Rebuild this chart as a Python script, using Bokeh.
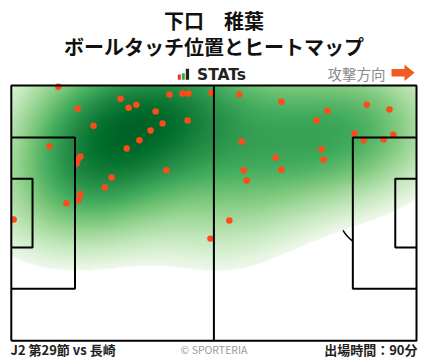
import numpy as np
from bokeh.plotting import figure
from bokeh.models import Range1d
from bokeh.core.properties import value
from bokeh.embed import file_html
from bokeh.resources import INLINE

# ---------------- data ----------------
player_name = "下口　稚葉"
chart_title = "ボールタッチ位置とヒートマップ"
match_label = "J2 第29節 vs 長崎"
minutes_label = "出場時間：90分"
direction_label = "攻撃方向"
credit_label = "© SPORTERIA"

# ball-touch positions in metres (pitch 105 x 68, attacking to the right)
touch_x = [12.2, 17.2, 21.3, 9.9, 17.9, 17.2, 16.9, 28.3, 30.4, 32.4, 41.0, 44.4,
           45.9, 51.9, 37.4, 39.2, 45.7, 36.1, 33.2, 29.9, 40.2, 59.1, 70.0, 79.1,
           59.7, 68.5, 80.4, 80.9, 60.2, 70.0, 81.9, 92.1, 98.0, 88.9, 91.3, 96.5,
           99.0, 26.0, 24.2, 17.9, 17.4, 14.3, 0.6, 51.6, 61.0, 56.5]
touch_y = [67.7, 61.9, 57.3, 51.8, 49.1, 48.3, 47.2, 64.5, 62.1, 62.9, 65.6, 65.9,
           65.9, 66.1, 61.1, 57.9, 58.7, 56.0, 53.4, 51.2, 45.4, 65.6, 63.7, 58.7,
           53.1, 48.8, 51.0, 48.3, 45.4, 45.6, 61.3, 62.9, 61.6, 55.2, 53.4, 53.6,
           54.9, 43.5, 40.8, 39.0, 37.4, 36.6, 32.3, 27.2, 42.7, 32.0]

PITCH_LEN, PITCH_WID = 105.0, 68.0

# ---------------- layout ----------------
W, H = 428, 359
X0, Y0 = 10.8, 85.0                 # picture position of pitch top-left
SX, SY = 405.2 / PITCH_LEN, 255.2 / PITCH_WID


def PX(px):
    return (px - X0) / SX


def PY(py):
    return PITCH_WID - (py - Y0) / SY


p = figure(width=W, height=H,
           x_range=Range1d(PX(0), PX(W)), y_range=Range1d(PY(H), PY(0)),
           x_axis_type=None, y_axis_type=None, toolbar_location=None,
           output_backend="svg", min_border=0, outline_line_color=None,
           background_fill_color="white", border_fill_color="white")

# ---------------- markings under the heat map ----------------
p.circle(x=[PITCH_LEN / 2], y=[PITCH_WID / 2], radius=9.15, fill_color=None,
         line_color="black", line_width=2)
p.arc(x=[11.0], y=[34.0], radius=9.15, start_angle=-0.93, end_angle=0.93,
      line_color="black", line_width=2)
p.arc(x=[94.0], y=[34.0], radius=9.15, start_angle=np.pi - 0.93, end_angle=np.pi + 0.93,
      line_color="black", line_width=1.5)
p.scatter(x=[11.0, 94.0], y=[34.0, 34.0], size=4, color="black")

# ---------------- heat map (kernel density of touches) ----------------
nx, ny = 406, 256
gx = (np.arange(nx) + 0.5) * PITCH_LEN / nx
gy = (np.arange(ny) + 0.5) * PITCH_WID / ny
GX, GY = np.meshgrid(gx, gy)
bx, by = 14.0, 12.5
dens = np.zeros_like(GX)
for tx, ty in zip(touch_x, touch_y):
    dens += np.exp(-((GX - tx) ** 2 / (2 * bx ** 2) + (GY - ty) ** 2 / (2 * by ** 2)))
dens /= dens.max()
thr = 0.12

stops = [0.0, 0.125, 0.25, 0.375, 0.5, 0.625, 0.75, 0.875, 1.0]
greens = ["#f7fcf5", "#e5f5e0", "#c7e9c0", "#a1d99b", "#74c476",
          "#41ab5d", "#238b45", "#006d2c", "#00441b"]
rgb = np.array([[int(c[i:i + 2], 16) for i in (1, 3, 5)] for c in greens], dtype=float)
t = np.clip((dens - thr) / (1 - thr), 0, 1) ** 0.72
cval = 0.05 + t * 0.86
img = np.zeros((ny, nx), dtype=np.uint32)
view = img.view(dtype=np.uint8).reshape((ny, nx, 4))
for ch in range(3):
    view[:, :, ch] = np.interp(cval, stops, rgb[:, ch]).astype(np.uint8)
view[:, :, 3] = np.where(dens >= thr, 255, 0).astype(np.uint8)
p.image_rgba(image=[img], x=0, y=0, dw=PITCH_LEN, dh=PITCH_WID)

# ---------------- touches ----------------
p.scatter(x=touch_x, y=touch_y, size=6.5, fill_color="#ff4a1a", line_color=None)

# ---------------- pitch lines ----------------
L, Wd = PITCH_LEN, PITCH_WID
pb_y0, pb_y1 = 34 - 20.16, 34 + 20.16
ga_y0, ga_y1 = 34 - 9.16, 34 + 9.16
lines_x = [[0, L, L, 0, 0], [L / 2, L / 2],
           [0, 16.5, 16.5, 0], [0, 5.5, 5.5, 0],
           [L, L - 16.5, L - 16.5, L], [L, L - 5.5, L - 5.5, L]]
lines_y = [[0, 0, Wd, Wd, 0], [0, Wd],
           [pb_y0, pb_y0, pb_y1, pb_y1], [ga_y0, ga_y0, ga_y1, ga_y1],
           [pb_y0, pb_y0, pb_y1, pb_y1], [ga_y0, ga_y0, ga_y1, ga_y1]]
p.multi_line(xs=lines_x, ys=lines_y, line_color="black", line_width=2)

# ---------------- header ----------------
JP = value("Noto Sans CJK JP")
p.text(x=[PX(213.5)], y=[PY(20)], text=[player_name], text_font=JP,
       text_font_size=value("20px"), text_font_style="bold", text_color="#111111",
       text_align="center", text_baseline="middle")
p.text(x=[PX(213.5)], y=[PY(46)], text=[chart_title], text_font=JP,
       text_font_size=value("20px"), text_font_style="bold", text_color="#111111",
       text_align="center", text_baseline="middle")

# STATs logo
p.quad(left=[PX(177.3), PX(181.3), PX(185.3)], right=[PX(180.3), PX(184.3), PX(188.6)],
       bottom=[PY(79.3)] * 3, top=[PY(74), PY(72.7), PY(68.3)],
       fill_color=["#e8332e", "#3aa935", "#222222"], line_color=None)
p.text(x=[PX(196.5)], y=[PY(74)], text=["STATs"], text_font=value("DejaVu Sans"),
       text_font_size=value("15.5px"), text_font_style="bold", text_color="#222222",
       text_align="left", text_baseline="middle")

# attack direction
p.text(x=[PX(385)], y=[PY(72.5)], text=[direction_label], text_font=JP,
       text_font_size=value("14.5px"), text_color="#8a8a8a",
       text_align="right", text_baseline="middle")
p.patch(x=[PX(391), PX(404), PX(404), PX(414), PX(404), PX(404), PX(391)],
        y=[PY(68.5), PY(68.5), PY(64), PY(72.2), PY(80.5), PY(76), PY(76)],
        fill_color="#f15a22", line_color=None)

# ---------------- footer ----------------
p.text(x=[PX(10)], y=[PY(348.5)], text=[match_label], text_font=JP,
       text_font_size=value("13px"), text_font_style="bold", text_color="#222222",
       text_align="left", text_baseline="middle")
p.text(x=[PX(213.5)], y=[PY(348.5)], text=[credit_label], text_font=JP,
       text_font_size=value("10.5px"), text_color="#9a9a9a",
       text_align="center", text_baseline="middle")
p.text(x=[PX(417)], y=[PY(348.5)], text=[minutes_label], text_font=JP,
       text_font_size=value("13px"), text_font_style="bold", text_color="#222222",
       text_align="right", text_baseline="middle")

open("out.html", "w").write(file_html(p, INLINE))
